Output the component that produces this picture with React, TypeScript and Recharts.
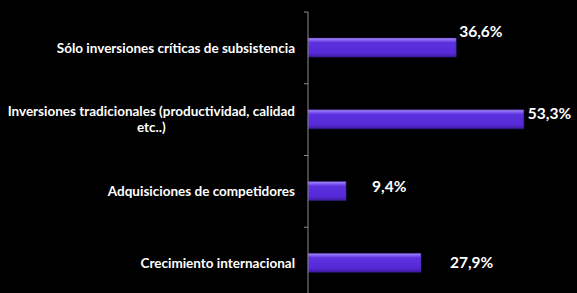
import { BarChart, Bar, XAxis, YAxis, LabelList } from "recharts"

const categories = [
  "Sólo inversiones críticas de subsistencia",
  "Inversiones tradicionales (productividad, calidad etc..)",
  "Adquisiciones de competidores",
  "Crecimiento internacional",
]
const values = [36.6, 53.3, 9.4, 27.9]

// manual label placement like in the original slide
const labelNudge = [
  { dx: 3, dy: -16 },
  { dx: 4, dy: -6 },
  { dx: 26, dy: -4 },
  { dx: 29, dy: 0 },
]

const data = categories.map((name, i) => ({ name, value: values[i] }))

const FONT = "Lato, 'DejaVu Sans', sans-serif"
const TICK_SIZE = 13.5
const TICK_FONT = `bold ${TICK_SIZE}px Lato`
const MAX_LABEL_W = 288

let ctx: CanvasRenderingContext2D | null = null
function measure(s: string) {
  if (!ctx) ctx = document.createElement("canvas").getContext("2d")
  if (!ctx) return s.length * 6.5
  ctx.font = TICK_FONT
  return ctx.measureText(s).width
}

function wrap(text: string) {
  const words = text.split(" ")
  const lines: string[] = []
  let cur = ""
  words.forEach((w) => {
    const next = cur ? cur + " " + w : w
    if (measure(next) > MAX_LABEL_W && cur) {
      lines.push(cur)
      cur = w
    } else cur = next
  })
  if (cur) lines.push(cur)
  return lines
}

function CategoryTick(props: any) {
  const { y, payload } = props
  const half = payload.offset || 35.9
  const lines = wrap(payload.value)
  const axisX = 308
  const right = 295
  const widest = Math.max(...lines.map(measure))
  const lh = 16
  const startY = y - ((lines.length - 1) * lh) / 2
  return (
    <g>
      <line x1={axisX - 4} x2={axisX} y1={y - half} y2={y - half} stroke="#8c8c8c" strokeWidth={1} />
      {lines.map((l, i) => (
        <text
          key={i}
          x={lines.length > 1 ? right - widest / 2 : right}
          y={startY + i * lh}
          dy="0.35em"
          textAnchor={lines.length > 1 ? "middle" : "end"}
          fill="#ffffff"
          fontFamily={FONT}
          fontWeight="bold"
          fontSize={TICK_SIZE}
        >
          {l}
        </text>
      ))}
    </g>
  )
}

function ValueLabel(props: any) {
  const { x, y, width, height, value, index } = props
  const n = labelNudge[index] || { dx: 5, dy: 0 }
  return (
    <text
      x={x + width + n.dx}
      y={y + height / 2 + n.dy}
      dy="0.35em"
      fill="#ffffff"
      fontFamily={FONT}
      fontWeight="bold"
      fontSize={15.5}
    >
      {Number(value).toFixed(1).replace(".", ",") + "%"}
    </text>
  )
}

export default function App() {
  return (
    <div style={{ position: "fixed", left: 0, top: 0, right: 0, bottom: 0, overflow: "hidden", background: "#000" }}>
      <BarChart
        width={577}
        height={300}
        data={data}
        layout="vertical"
        margin={{ top: 12, right: 26, bottom: 1, left: 0 }}
        barSize={19}
      >
        <defs>
          <linearGradient id="barFill" x1="0" y1="0" x2="0" y2="1">
            <stop offset="0%" stopColor="#a58cf7" />
            <stop offset="14%" stopColor="#7d58ee" />
            <stop offset="24%" stopColor="#5c31de" />
            <stop offset="80%" stopColor="#5629d6" />
            <stop offset="100%" stopColor="#3b1b9e" />
          </linearGradient>
        </defs>
        <XAxis type="number" domain={[0, 60]} hide />
        <YAxis
          type="category"
          dataKey="name"
          width={308}
          axisLine={{ stroke: "#8c8c8c" }}
          tickLine={false}
          tick={<CategoryTick />}
          interval={0}
        />
        <Bar dataKey="value" fill="url(#barFill)" stroke="#3a1b96" strokeWidth={0.5} isAnimationActive={false}>
          <LabelList dataKey="value" content={<ValueLabel />} />
        </Bar>
      </BarChart>
    </div>
  )
}
